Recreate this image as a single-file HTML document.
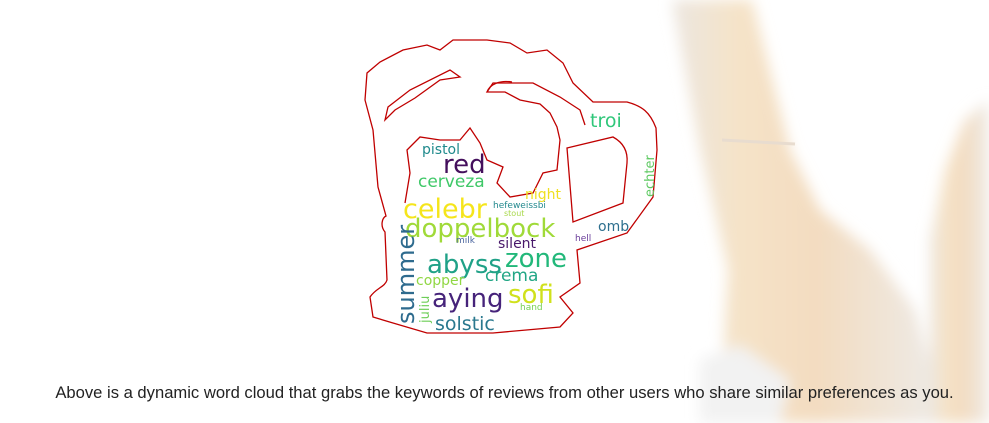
<!DOCTYPE html>
<html><head><meta charset="utf-8"><style>
html,body{margin:0;padding:0;background:#fff;width:989px;height:423px;overflow:hidden}
svg{position:absolute;left:0;top:0}
.cap{position:absolute;left:0;width:989px;top:383px;text-align:center;font:16.6px "Liberation Sans",sans-serif;color:#222;padding-left:20px;box-sizing:border-box;white-space:nowrap}
</style></head><body>
<svg width="989" height="423">
<defs>
<filter id="b"><feGaussianBlur stdDeviation="7"/></filter>
<linearGradient id="g1" x1="0" x2="1" y1="0" y2="0"><stop offset="0" stop-color="#ece6e0"/><stop offset="0.25" stop-color="#f5e3c8"/><stop offset="0.55" stop-color="#f3dcc0"/><stop offset="1" stop-color="#eeeae6"/></linearGradient>
</defs>
<g filter="url(#b)">
<path d="M672,0 L752,0 L790,150 L820,210 L870,250 L915,310 L935,380 L935,423 L722,423 L725,320 L728,270 L700,150 Z" fill="url(#g1)"/>
<path d="M965,120 L989,100 L989,423 L930,423 L930,240 L945,170 Z" fill="url(#g1)"/>
<path d="M700,360 L740,345 L790,380 L780,423 L700,423 Z" fill="#f2f2f2"/>
</g>
<path d="M722,140 L795,144" stroke="#e8dccf" stroke-width="3" fill="none"/>
</svg>
<svg width="989" height="423">
<g fill="none" stroke="#c00000" stroke-width="1.3">
<path d="M370,297 C376,288 385,287 387,280 L385,232 C380,226 382,218 386,216 L378,187 L373,130 L365,100 L367,73 L380,62 L403,50 L427,45 L440,50 L453,40 L487,40 L510,43 L527,53 L547,50 L563,63 L573,83 L593,102 L627,102 C642,106 650,112 656,128 L657,150 L653,197 L627,233 L577,250 L580,283 L560,297 L573,313 L560,327 L493,333 L427,333 L393,323 L373,317 Z"/>
<path d="M567,148 L613,137 C624,143 628,152 627,163 L623,203 L573,222 Z"/>
<path d="M405,203 L410,173 L407,150 L420,137 L440,140 L460,140 L470,128 L480,143 L487,160 L503,167 L497,183 L510,197 L533,193 L543,173 L557,170 L560,140 L557,127 L550,113 L540,104 L520,100 L505,92 L487,92 L493,83 L533,83 L560,97 L580,110 L585,125"/>
<path d="M385,120 L388,107 L410,90 L450,70 L460,77 L440,80 L415,98 L395,110 Z"/>
<path d="M487,92 C490,84 500,80 512,82"/>
</g>
<g font-family="'DejaVu Sans',sans-serif">
<text x="590" y="127" font-size="19" fill="#2fc77a">troi</text>
<text x="422" y="154" font-size="14" fill="#1f8a8c">pistol</text>
<text x="443" y="173" font-size="26" fill="#440f5c">red</text>
<text x="418" y="187" font-size="17" fill="#3fc868">cerveza</text>
<text x="525" y="199" font-size="14" fill="#f0e020">night</text>
<text x="403" y="218" font-size="27" fill="#f5e51b">celebr</text>
<text x="493" y="208" font-size="9" fill="#23898e">hefeweissbi</text>
<text x="504" y="216" font-size="8" fill="#a8d84a">stout</text>
<text x="405" y="237" font-size="26" fill="#a0da39">doppelbock</text>
<text x="598" y="231" font-size="14" fill="#2d6f8e">omb</text>
<text x="456" y="243" font-size="9" fill="#4e68a0">milk</text>
<text x="498" y="248" font-size="14" fill="#48186a">silent</text>
<text x="575" y="241" font-size="9" fill="#6a3d9a">hell</text>
<text x="427" y="273" font-size="26" fill="#1fa187">abyss</text>
<text x="505" y="267" font-size="26" fill="#22b87a">zone</text>
<text x="485" y="281" font-size="17" fill="#21a685">crema</text>
<text x="416" y="285" font-size="14" fill="#90d743">copper</text>
<text transform="translate(414,324) rotate(-90)" font-size="24" fill="#2e6b8e">summer</text>
<text transform="translate(429,323) rotate(-90)" font-size="13" fill="#6ece58">juliu</text>
<text transform="translate(654,197) rotate(-90)" font-size="13" fill="#5ec962">echter</text>
<text x="432" y="307" font-size="26" fill="#46237a">aying</text>
<text x="508" y="303" font-size="26" fill="#d0e11c">sofi</text>
<text x="520" y="310" font-size="9" fill="#75d054">hand</text>
<text x="435" y="330" font-size="19" fill="#2a788e">solstic</text>
</g>
</svg>
<div class="cap">Above is a dynamic word cloud that grabs the keywords of reviews from other users who share similar preferences as you.</div>
</body></html>
